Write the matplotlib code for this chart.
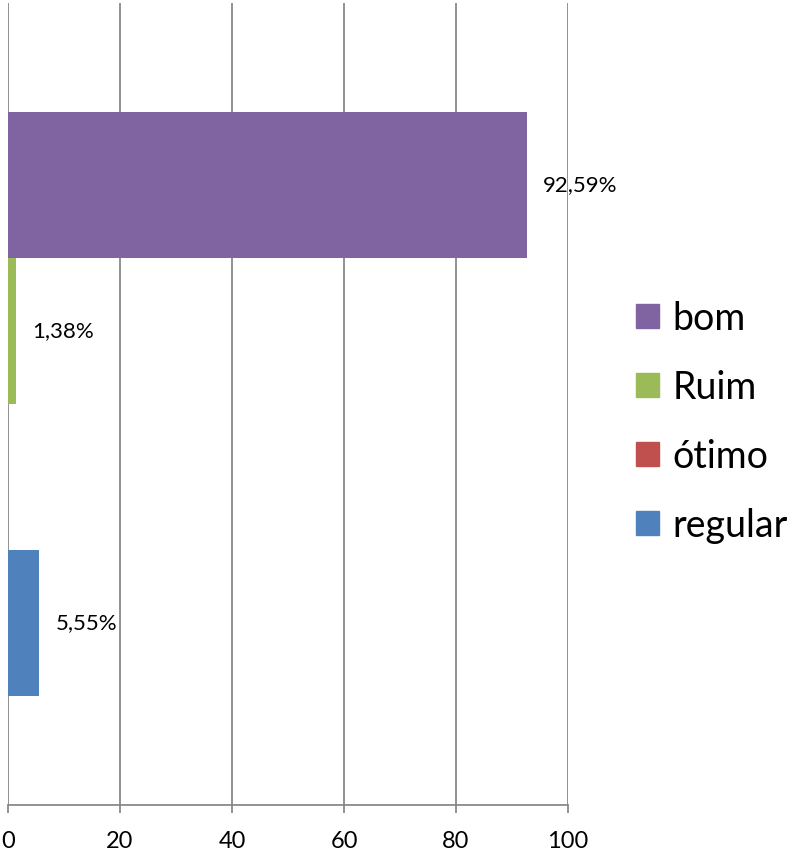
import matplotlib
matplotlib.use("Agg")
import matplotlib.pyplot as plt
from matplotlib.patches import Patch

series = ["regular", "ótimo", "Ruim", "bom"]
values = [5.55, 0.0, 1.38, 92.59]
labels = ["5,55%", "", "1,38%", "92,59%"]
colors = ["#4F81BD", "#C0504D", "#9BBB59", "#8064A2"]
xticks = [0, 20, 40, 60, 80, 100]

plt.rcParams['font.family'] = ['Lato', 'DejaVu Sans']

W, H = 794, 855
fig = plt.figure(figsize=(W / 100, H / 100), dpi=100)
ax = fig.add_axes([8 / W, 50 / H, 560 / W, 802 / H])

n = len(series)
h = 1.0 / (n + 1.5)
grid_c = "#898989"
for i, (s, v, lab, c) in enumerate(zip(series, values, labels, colors)):
    y = (i - (n - 1) / 2) * h
    ax.barh(y, v, height=h, color=c, label=s, zorder=3)
    if lab:
        ax.annotate(lab, (v, y), xytext=(12, 0), textcoords="offset points",
                    ha="left", va="center", fontsize=16, color="black", zorder=5)

ax.set_xlim(0, 100)
ax.set_ylim(-0.5, 0.5)
ax.set_xticks(xticks)
ax.set_xticklabels([str(t) for t in xticks])
ax.set_yticks([])
ax.grid(axis="x", color=grid_c, linewidth=1.3, zorder=0)
for sp in ["top", "right", "left"]:
    ax.spines[sp].set_visible(False)
ax.spines["bottom"].set_color(grid_c)
ax.spines["bottom"].set_linewidth(1.3)
ax.tick_params(axis="x", direction="out", length=6, width=1.3, color=grid_c,
               labelsize=17, pad=13)
for lab in ax.get_xticklabels():
    lab.set_clip_on(False)

handles = [Patch(color=c) for c in colors][::-1]
fig.legend(handles, series[::-1], loc="center left",
           bbox_to_anchor=(636 / W, 1 - 422 / H), frameon=False,
           fontsize=27, handlelength=0.62, handleheight=0.62,
           handletextpad=0.35, labelspacing=0.88, borderaxespad=0,
           borderpad=0)

fig.savefig("out.png", dpi=100)
